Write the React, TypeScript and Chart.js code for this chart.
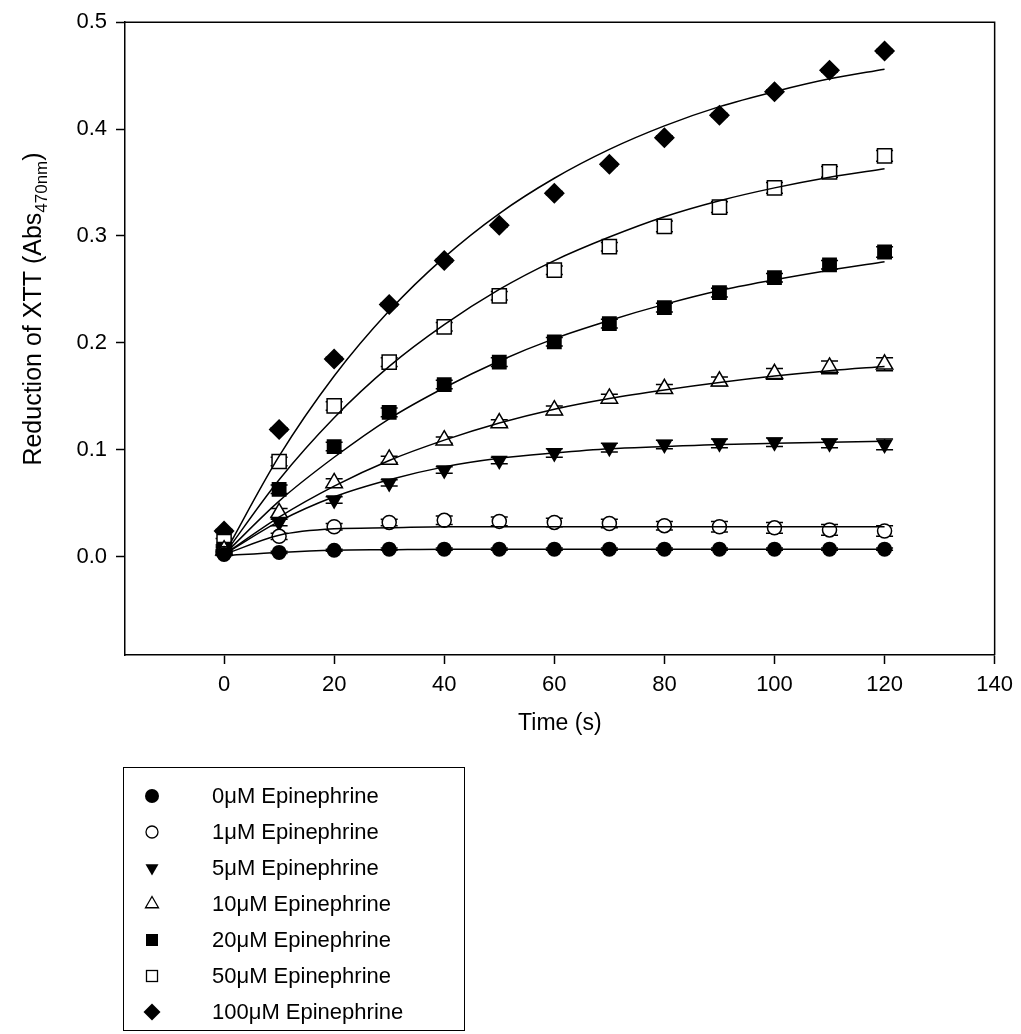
import React, { useEffect, useRef } from "react";
import { Chart, registerables } from "chart.js";

Chart.register(...registerables);

// ---------- data ----------
const TIME = [0, 10, 20, 30, 40, 50, 60, 70, 80, 90, 100, 110, 120];
const X_TICKS = [0, 20, 40, 60, 80, 100, 120, 140];
const Y_TICKS = [0, 0.1, 0.2, 0.3, 0.4, 0.5];

const LABELS = [
  "0μM Epinephrine",
  "1μM Epinephrine",
  "5μM Epinephrine",
  "10μM Epinephrine",
  "20μM Epinephrine",
  "50μM Epinephrine",
  "100μM Epinephrine",
];

// measured means
const MEAN_0 = [0.002, 0.004, 0.006, 0.007, 0.007, 0.007, 0.007, 0.007, 0.007, 0.007, 0.007, 0.007, 0.007];
const MEAN_1 = [0.003, 0.019, 0.028, 0.032, 0.034, 0.033, 0.032, 0.031, 0.029, 0.028, 0.027, 0.025, 0.024];
const MEAN_5 = [0.005, 0.032, 0.053, 0.069, 0.081, 0.090, 0.097, 0.102, 0.105, 0.106, 0.107, 0.106, 0.105];
const MEAN_10 = [0.006, 0.041, 0.069, 0.091, 0.109, 0.125, 0.137, 0.148, 0.157, 0.164, 0.171, 0.177, 0.180];
const MEAN_20 = [0.007, 0.063, 0.103, 0.135, 0.161, 0.182, 0.201, 0.218, 0.233, 0.247, 0.261, 0.273, 0.285];
const MEAN_50 = [0.014, 0.089, 0.141, 0.182, 0.215, 0.244, 0.268, 0.290, 0.309, 0.327, 0.345, 0.360, 0.375];
const MEAN_100 = [0.024, 0.119, 0.185, 0.236, 0.277, 0.310, 0.340, 0.367, 0.392, 0.413, 0.435, 0.455, 0.473];

// error bar half-widths
const ERR_0 = [0.001, 0.001, 0.001, 0.001, 0.001, 0.001, 0.001, 0.001, 0.001, 0.001, 0.001, 0.001, 0.001];
const ERR_1 = [0.001, 0.003, 0.003, 0.003, 0.004, 0.004, 0.004, 0.004, 0.004, 0.005, 0.005, 0.005, 0.005];
const ERR_5 = [0.001, 0.003, 0.003, 0.003, 0.003, 0.003, 0.004, 0.004, 0.004, 0.004, 0.004, 0.004, 0.005];
const ERR_10 = [0.001, 0.004, 0.004, 0.003, 0.003, 0.003, 0.004, 0.004, 0.004, 0.004, 0.005, 0.006, 0.006];
const ERR_20 = [0.002, 0.004, 0.004, 0.004, 0.004, 0.004, 0.004, 0.004, 0.004, 0.004, 0.004, 0.004, 0.005];
const ERR_50 = [0.003, 0.004, 0.004, 0.004, 0.004, 0.004, 0.004, 0.004, 0.005, 0.005, 0.005, 0.005, 0.005];
const ERR_100 = [0.0015, 0.0015, 0.0015, 0.0015, 0.0015, 0.0015, 0.0015, 0.0015, 0.0015, 0.0015, 0.0015, 0.0015, 0.0015];

// fitted curves at the same times
const FIT_0 = [0.001, 0.004, 0.006, 0.0065, 0.007, 0.007, 0.007, 0.007, 0.007, 0.007, 0.007, 0.007, 0.007];
const FIT_1 = [0.002, 0.020, 0.026, 0.027, 0.028, 0.028, 0.028, 0.028, 0.028, 0.028, 0.028, 0.028, 0.028];
const FIT_5 = [0.002, 0.033, 0.056, 0.072, 0.084, 0.092, 0.097, 0.101, 0.103, 0.105, 0.106, 0.107, 0.108];
const FIT_10 = [0.002, 0.037, 0.066, 0.090, 0.109, 0.125, 0.138, 0.148, 0.156, 0.163, 0.169, 0.174, 0.178];
const FIT_20 = [0.002, 0.052, 0.093, 0.129, 0.158, 0.183, 0.204, 0.221, 0.236, 0.249, 0.259, 0.268, 0.276];
const FIT_50 = [0.002, 0.072, 0.130, 0.178, 0.217, 0.250, 0.277, 0.299, 0.318, 0.333, 0.345, 0.355, 0.363];
const FIT_100 = [0.002, 0.094, 0.169, 0.230, 0.280, 0.321, 0.354, 0.381, 0.403, 0.421, 0.435, 0.447, 0.456];

const MEANS = [MEAN_0, MEAN_1, MEAN_5, MEAN_10, MEAN_20, MEAN_50, MEAN_100];
const ERRS = [ERR_0, ERR_1, ERR_5, ERR_10, ERR_20, ERR_50, ERR_100];
const FITS = [FIT_0, FIT_1, FIT_5, FIT_10, FIT_20, FIT_50, FIT_100];

// ---------- styles ----------
type Mk = { style: string; rot: number; filled: boolean; r: number };
const MARKERS: Mk[] = [
  { style: "circle", rot: 0, filled: true, r: 7.5 },
  { style: "circle", rot: 0, filled: false, r: 7 },
  { style: "triangle", rot: 180, filled: true, r: 9.5 },
  { style: "triangle", rot: 0, filled: false, r: 9.5 },
  { style: "rect", rot: 0, filled: true, r: 10.5 },
  { style: "rect", rot: 0, filled: false, r: 10 },
  { style: "rectRot", rot: 0, filled: true, r: 10.5 },
];

const FONT = "'Liberation Sans', Arial, Helvetica, sans-serif";

const W = 1021;
const H = 1034;
const PLOT_LEFT = 125;
const PLOT_RIGHT = 998;
const PLOT_TOP = 22;
const PLOT_BOTTOM = 655;
const X_AXIS_H = 70;

const errorBarPlugin = {
  id: "errorBars",
  beforeDatasetsDraw(chart: any) {
    const { ctx } = chart;
    const ys = chart.scales.y;
    chart.data.datasets.forEach((ds: any, i: number) => {
      if (!ds.errors) return;
      const meta = chart.getDatasetMeta(i);
      ctx.save();
      ctx.strokeStyle = "#000";
      ctx.lineWidth = 1.5;
      meta.data.forEach((pt: any, j: number) => {
        const v = ds.data[j].y;
        const e = ds.errors[j];
        const t = ys.getPixelForValue(v + e);
        const b = ys.getPixelForValue(v - e);
        const cw = 8.5;
        ctx.beginPath();
        ctx.moveTo(pt.x, t);
        ctx.lineTo(pt.x, b);
        ctx.moveTo(pt.x - cw, t);
        ctx.lineTo(pt.x + cw, t);
        ctx.moveTo(pt.x - cw, b);
        ctx.lineTo(pt.x + cw, b);
        ctx.stroke();
      });
      ctx.restore();
    });
  },
};

const framePlugin = {
  id: "frameAndTitles",
  afterDraw(chart: any) {
    const { ctx, chartArea } = chart;
    ctx.save();
    ctx.strokeStyle = "#000";
    ctx.lineWidth = 1.5;
    ctx.beginPath();
    ctx.moveTo(chartArea.left, chartArea.top);
    ctx.lineTo(chartArea.right, chartArea.top);
    ctx.lineTo(chartArea.right, chartArea.bottom);
    ctx.stroke();

    ctx.fillStyle = "#000";
    // x title
    ctx.font = `23px ${FONT}`;
    ctx.textAlign = "center";
    ctx.textBaseline = "alphabetic";
    ctx.fillText("Time (s)", (chartArea.left + chartArea.right) / 2, 730);

    // y title with subscript
    const main = "Reduction of XTT (Abs";
    const sub = "470nm";
    const end = ")";
    const big = `25px ${FONT}`;
    const small = `17px ${FONT}`;
    ctx.font = big;
    const w1 = ctx.measureText(main).width;
    const w3 = ctx.measureText(end).width;
    ctx.font = small;
    const w2 = ctx.measureText(sub).width;
    const total = w1 + w2 + w3;
    ctx.translate(41, 309);
    ctx.rotate(-Math.PI / 2);
    ctx.textAlign = "left";
    const x0 = -total / 2;
    ctx.font = big;
    ctx.fillText(main, x0, 0);
    ctx.font = small;
    ctx.fillText(sub, x0 + w1, 6);
    ctx.font = big;
    ctx.fillText(end, x0 + w1 + w2, 0);
    ctx.restore();
  },
};

function LegendSymbol({ mk }: { mk: Mk }) {
  const s = 18;
  const c = s / 2;
  const fill = mk.filled ? "#000" : "#fff";
  const sw = mk.filled ? 0 : 1.3;
  let shape: any = null;
  if (mk.style === "circle") {
    shape = <circle cx={c} cy={c} r={mk.filled ? 7 : 6} fill={fill} stroke="#000" strokeWidth={sw} />;
  } else if (mk.style === "triangle") {
    const r = 7.5;
    const pts =
      mk.rot === 180
        ? `${c - r * 0.866},${c - r / 2} ${c + r * 0.866},${c - r / 2} ${c},${c + r}`
        : `${c},${c - r} ${c + r * 0.866},${c + r / 2} ${c - r * 0.866},${c + r / 2}`;
    shape = <polygon points={pts} fill={fill} stroke="#000" strokeWidth={sw} />;
  } else if (mk.style === "rect") {
    const a = mk.filled ? 6 : 5.5;
    shape = <rect x={c - a} y={c - a} width={2 * a} height={2 * a} fill={fill} stroke="#000" strokeWidth={sw} />;
  } else {
    const r = 8.5;
    shape = <polygon points={`${c},${c - r} ${c + r},${c} ${c},${c + r} ${c - r},${c}`} fill={fill} />;
  }
  return (
    <svg width={s} height={s} style={{ display: "block" }}>
      {shape}
    </svg>
  );
}

export default function App() {
  const ref = useRef<HTMLCanvasElement | null>(null);

  useEffect(() => {
    if (!ref.current) return;
    const scatterSets = MEANS.map((arr, i) => {
      const mk = MARKERS[i];
      return {
        type: "scatter" as const,
        label: LABELS[i],
        data: TIME.map((t, j) => ({ x: t, y: arr[j] })),
        errors: ERRS[i],
        pointStyle: mk.style,
        rotation: mk.rot,
        pointRadius: mk.r,
        pointHoverRadius: mk.r,
        pointBackgroundColor: mk.filled ? "#000" : "#fff",
        pointBorderColor: "#000",
        pointBorderWidth: mk.filled ? 0 : 1.5,
        showLine: false,
        order: 2,
      };
    });
    const fitSets = FITS.map((arr, i) => ({
      type: "line" as const,
      label: LABELS[i] + " fit",
      data: TIME.map((t, j) => ({ x: t, y: arr[j] })),
      borderColor: "#000",
      borderWidth: 1.5,
      pointRadius: 0,
      fill: false,
      cubicInterpolationMode: "monotone" as const,
      order: 1,
    }));

    const chart = new Chart(ref.current, {
      type: "scatter",
      data: { datasets: [...scatterSets, ...fitSets] as any },
      options: {
        animation: false,
        responsive: false,
        maintainAspectRatio: false,
        layout: {
          padding: {
            left: 0,
            top: PLOT_TOP,
            right: W - PLOT_RIGHT,
            bottom: H - PLOT_BOTTOM - X_AXIS_H,
          },
        },
        plugins: {
          legend: { display: false },
          tooltip: { enabled: false },
          title: { display: false },
        },
        scales: {
          x: {
            type: "linear",
            min: -18,
            max: 140,
            afterBuildTicks: (s: any) => {
              s.ticks = X_TICKS.map((v) => ({ value: v }));
            },
            afterFit: (s: any) => {
              s.height = X_AXIS_H;
            },
            ticks: {
              color: "#000",
              font: { family: FONT, size: 22 },
              padding: 8,
              maxRotation: 0,
              autoSkip: false,
              callback: (v: any) => String(v),
            },
            grid: {
              drawOnChartArea: false,
              drawTicks: true,
              tickLength: 9,
              tickWidth: 1.5,
              tickColor: "#000",
              color: "#000",
            },
            border: { display: true, color: "#000", width: 1.5 },
          },
          y: {
            type: "linear",
            min: -0.092,
            max: 0.5,
            afterBuildTicks: (s: any) => {
              s.ticks = Y_TICKS.map((v) => ({ value: v }));
            },
            afterFit: (s: any) => {
              s.width = PLOT_LEFT;
            },
            ticks: {
              color: "#000",
              font: { family: FONT, size: 22 },
              padding: 9,
              autoSkip: false,
              callback: (v: any) => Number(v).toFixed(1),
            },
            grid: {
              drawOnChartArea: false,
              drawTicks: true,
              tickLength: 9,
              tickWidth: 1.5,
              tickColor: "#000",
              color: "#000",
            },
            border: { display: true, color: "#000", width: 1.5 },
          },
        },
      },
      plugins: [errorBarPlugin, framePlugin],
    });
    return () => chart.destroy();
  }, []);

  return (
    <div style={{ position: "absolute", left: 0, top: 0, width: W, height: H, background: "#fff" }}>
      <canvas ref={ref} width={W} height={H} style={{ position: "absolute", left: 0, top: 0 }} />
      <div
        style={{
          position: "absolute",
          left: 123,
          top: 767,
          width: 342,
          height: 264,
          boxSizing: "border-box",
          border: "1.5px solid #000",
          fontFamily: FONT,
          fontSize: 22,
          color: "#000",
        }}
      >
        {LABELS.map((lab, i) => (
          <div
            key={lab}
            style={{
              position: "absolute",
              left: 0,
              top: 15 + i * 36,
              height: 26,
              display: "flex",
              alignItems: "center",
            }}
          >
            <div style={{ width: 18, marginLeft: 19 }}>
              <LegendSymbol mk={MARKERS[i]} />
            </div>
            <span style={{ marginLeft: 51, whiteSpace: "nowrap" }}>{lab}</span>
          </div>
        ))}
      </div>
    </div>
  );
}
